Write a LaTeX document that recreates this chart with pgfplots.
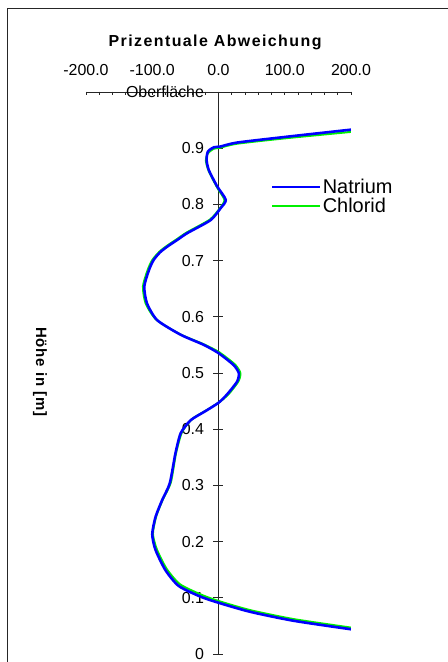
\documentclass[border=0pt]{standalone}
\usepackage{fontspec}
\setmainfont{Liberation Sans}
\usepackage{pgfplots}
\pgfplotsset{compat=1.18}
\definecolor{natblue}{RGB}{0,0,255}
\definecolor{chlgreen}{RGB}{0,240,0}
\begin{document}
\begin{tikzpicture}
\path[use as bounding box] (-86bp,-8bp) rectangle (362bp,654bp);
\draw[line width=1bp, black!85] (-78bp,-12bp) -- (-78bp,645bp) -- (366bp,645bp);
\begin{axis}[
  at={(0,0)}, anchor=south west,
  scale only axis, width=265bp, height=562bp,
  xmin=-200, xmax=200, ymin=0, ymax=1,
  axis x line=top, axis y line=center,
  axis line style={-, line width=0.8bp, black!85},
  hide obscured x ticks=false, hide obscured y ticks=false,
  xtick={-200,-100,0,100,200},
  xticklabels={-200.0,-100.0,0.0,100.0,200.0},
  major x tick style={draw=none},
  minor xtick={-200,-180,...,200},
  minor x tick style={yshift=-1.5bp},
  tick align=center,
  major tick length=10bp, minor tick length=3.5bp,
  tick style={black!85, line width=0.8bp},
  ytick={0,0.1,0.2,0.3,0.4,0.5,0.6,0.7,0.8,0.9,1},
  yticklabels={0,0.1,0.2,0.3,0.4,0.5,0.6,0.7,0.8,0.9,Oberfläche},
  xticklabel style={font=\fontsize{16}{19}\selectfont, yshift=8bp},
  yticklabel style={font=\fontsize{16}{19}\selectfont, xshift=-6bp},
  every axis x label/.style={at={(rel axis cs:0.487,1.088)}, anchor=center,
     font=\bfseries\fontsize{16}{19}\selectfont},
  xlabel={\addfontfeatures{LetterSpace=9}Prizentuale Abweichung},
  every axis y label/.style={at={(rel axis cs:-0.174,0.502)}, anchor=center,
     rotate=-90, font=\bfseries\fontsize{15}{18}\selectfont},
  ylabel={\addfontfeatures{LetterSpace=6}Höhe in [m]},
  legend style={draw=none, fill=none, at={(rel axis cs:0.685,0.814)}, anchor=west,
     font=\fontsize{20}{22}\selectfont, nodes={inner sep=1.5bp}, row sep=0bp},
  legend cell align=left,
  reverse legend,
  legend image code/.code={\draw[#1] (0bp,0bp) -- (48bp,0bp);},
]
\addplot[chlgreen, line width=2bp, smooth, tension=0.4, line join=round] coordinates {
(200,0.929) (104,0.918) (28,0.908) (3,0.901) (-7,0.899) (-16,0.891)
(-19,0.878) (-15,0.860) (-2,0.830) (9,0.808) (2,0.793) (-13,0.773)
(-48,0.750) (-63,0.738) (-77,0.727) (-89,0.716) (-100,0.701) (-107,0.683)
(-114,0.654) (-110,0.624) (-94,0.595) (-58,0.569) (-22,0.551) (1,0.537)
(25,0.515) (33,0.500) (30,0.485) (15,0.462) (1,0.448) (-19,0.433)
(-40,0.418) (-55,0.395) (-64,0.358) (-72,0.305) (-84,0.275) (-94,0.245)
(-99,0.214) (-93,0.186) (-78,0.151) (-58,0.124) (-25,0.105) (1,0.094)
(48,0.078) (114,0.062) (200,0.047)
};
\addlegendentry{Chlorid}
\addplot[natblue, line width=2.6bp, smooth, tension=0.4, line join=round] coordinates {
(200,0.933) (104,0.9205) (28,0.910) (3,0.903) (-7,0.9016) (-16,0.894)
(-18,0.879) (-14.6,0.861) (-2,0.832) (11,0.808) (3,0.793) (-12,0.772)
(-47,0.749) (-62,0.737) (-76,0.726) (-88,0.715) (-98,0.701) (-105,0.683)
(-112,0.654) (-108,0.624) (-92.5,0.594) (-57,0.568) (-22,0.550) (0.5,0.535)
(23,0.514) (30.7,0.4995) (28,0.4845) (13,0.462) (0,0.447) (-20,0.432)
(-42,0.416) (-57,0.393) (-65,0.357) (-73.5,0.304) (-85,0.274) (-95,0.244)
(-100,0.213) (-95,0.185) (-80,0.149) (-60,0.121) (-27,0.102) (0.5,0.091)
(48,0.075) (114,0.059) (200,0.044)
};
\addlegendentry{Natrium}
\end{axis}
\end{tikzpicture}
\end{document}
